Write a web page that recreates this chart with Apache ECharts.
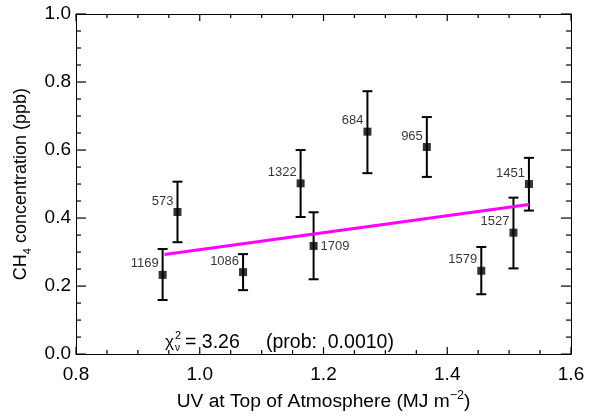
<!DOCTYPE html>
<html>
<head>
<meta charset="utf-8">
<script src="https://cdn.jsdelivr.net/npm/echarts@6/dist/echarts.min.js"></script>
<style>
html,body{margin:0;padding:0;background:#fff;}
#c{width:589px;height:416px;}
</style>
</head>
<body>
<div id="c"></div>
<script>
// ---- data ----
var ids = ['573', '1169', '1086', '1322', '684', '965', '1451', '1709', '1579', '1527'];
var uv = [0.964, 0.940, 1.070, 1.163, 1.271, 1.367, 1.532, 1.184, 1.455, 1.507];
var ch4 = [0.418, 0.233, 0.241, 0.502, 0.654, 0.609, 0.500, 0.318, 0.245, 0.357];
var errLow = [0.329, 0.159, 0.188, 0.403, 0.532, 0.521, 0.422, 0.220, 0.176, 0.252];
var errHigh = [0.507, 0.309, 0.294, 0.600, 0.773, 0.697, 0.577, 0.417, 0.315, 0.460];
var fitX = [0.943, 1.532];
var fitY = [0.293, 0.440];
var xTicks = [0.8, 1.0, 1.2, 1.4, 1.6];
var yTicks = [0.0, 0.2, 0.4, 0.6, 0.8, 1.0];
var minorPerMajor = 4;
var chiText = '= 3.26';
var probText = '(prob:  0.0010)';

var FONT = '"Liberation Sans", Arial, Helvetica, sans-serif';
var chart = echarts.init(document.getElementById('c'), null, {renderer: 'canvas'});

var scatterData = uv.map(function (x, i) {
  var right = ids[i] === '1709';
  return {
    value: [x, ch4[i]],
    name: ids[i],
    label: right ? {position: 'right', distance: 3, align: 'left', verticalAlign: 'middle'}
                 : {position: [0, -7], align: 'right', verticalAlign: 'middle'}
  };
});
var errData = uv.map(function (x, i) { return [x, errLow[i], errHigh[i]]; });
var fitData = fitX.map(function (x, i) { return [x, fitY[i]]; });

function fmt1(v) { return Number(v).toFixed(1); }

var XMIN = xTicks[0], XMAX = xTicks[xTicks.length - 1];
var YMIN = yTicks[0], YMAX = yTicks[yTicks.length - 1];
var blackLine = {color: '#000', width: 1};

// tick segments built through the axes' own scales (convertToPixel after layout)
function buildTickGraphics() {
  var els = [];
  var p0 = chart.convertToPixel({gridIndex: 0}, [XMIN, YMIN]);
  var p1 = chart.convertToPixel({gridIndex: 0}, [XMAX, YMAX]);
  var xl = p0[0], xr = p1[0], yb = p0[1], yt = p1[1];
  function seg(x1, y1, x2, y2) {
    els.push({type: 'line', silent: true, z: 10, shape: {x1: x1, y1: y1, x2: x2, y2: y2},
      style: {stroke: '#000', lineWidth: 1.2}});
  }
  function each(list, cb) {
    for (var i = 0; i < list.length; i++) {
      cb(list[i], true);
      if (i < list.length - 1) {
        var step = (list[i + 1] - list[i]) / minorPerMajor;
        for (var k = 1; k < minorPerMajor; k++) cb(list[i] + step * k, false);
      }
    }
  }
  each(xTicks, function (v, major) {
    var px = chart.convertToPixel({xAxisIndex: 0}, v);
    var len = major ? 7 : 4;
    seg(px, yb, px, yb - len);
    seg(px, yt, px, yt + len);
  });
  each(yTicks, function (v, major) {
    var py = chart.convertToPixel({yAxisIndex: 0}, v);
    var len = major ? 10 : 5;
    seg(xl, py, xl + len, py);
    seg(xr, py, xr - len, py);
  });
  return els;
}

var option = {
  animation: false,
  backgroundColor: '#fff',
  textStyle: {fontFamily: FONT},
  grid: {left: 76, right: 18, top: 14, bottom: 50, containLabel: false},
  xAxis: [{
    type: 'value', min: XMIN, max: XMAX, interval: 0.2, position: 'bottom',
    axisLine: {show: true, onZero: false, lineStyle: blackLine},
    axisTick: {show: false},
    splitLine: {show: false},
    axisLabel: {show: true, color: '#000', fontSize: 19, fontFamily: FONT, margin: 11, formatter: fmt1},
    name: '{a|UV at Top of Atmosphere (MJ m}{s|\u22122}{a|)}',
    nameLocation: 'middle', nameGap: 27,
    nameTextStyle: {
      color: '#000', fontFamily: FONT, fontSize: 19,
      rich: {
        a: {fontSize: 19.2, fontFamily: FONT, color: '#000', lineHeight: 22, verticalAlign: 'bottom'},
        s: {fontSize: 12.5, fontFamily: FONT, color: '#000', lineHeight: 22, verticalAlign: 'top'}
      }
    }
  }, {
    type: 'value', min: XMIN, max: XMAX, interval: 0.2, position: 'top',
    axisLine: {show: true, onZero: false, lineStyle: blackLine},
    axisTick: {show: false}, axisLabel: {show: false}, splitLine: {show: false}
  }],
  yAxis: [{
    type: 'value', min: YMIN, max: YMAX, interval: 0.2, position: 'left',
    axisLine: {show: true, onZero: false, lineStyle: blackLine},
    axisTick: {show: false},
    splitLine: {show: false},
    axisLabel: {show: true, color: '#000', fontSize: 19, fontFamily: FONT, margin: 5, formatter: fmt1},
    name: '{a|CH}{s|4}{a| concentration (ppb)}',
    nameLocation: 'middle', nameGap: 38, nameRotate: 90,
    nameTextStyle: {
      color: '#000', fontFamily: FONT, fontSize: 18,
      rich: {
        a: {fontSize: 18, fontFamily: FONT, color: '#000', lineHeight: 22, verticalAlign: 'top'},
        s: {fontSize: 11, fontFamily: FONT, color: '#000', lineHeight: 22, verticalAlign: 'bottom'}
      }
    }
  }, {
    type: 'value', min: YMIN, max: YMAX, interval: 0.2, position: 'right',
    axisLine: {show: true, onZero: false, lineStyle: blackLine},
    axisTick: {show: false}, axisLabel: {show: false}, splitLine: {show: false}
  }],
  series: [
    {
      type: 'custom',
      xAxisIndex: 0, yAxisIndex: 0,
      data: errData,
      z: 2,
      renderItem: function (params, api) {
        var x = api.value(0);
        var lo = api.coord([x, api.value(1)]);
        var hi = api.coord([x, api.value(2)]);
        var hw = 5;
        var st = {stroke: '#000', lineWidth: 2, fill: null};
        return {
          type: 'group',
          children: [
            {type: 'line', shape: {x1: lo[0], y1: lo[1], x2: hi[0], y2: hi[1]}, style: st},
            {type: 'line', shape: {x1: lo[0] - hw, y1: lo[1], x2: lo[0] + hw, y2: lo[1]}, style: st},
            {type: 'line', shape: {x1: hi[0] - hw, y1: hi[1], x2: hi[0] + hw, y2: hi[1]}, style: st}
          ]
        };
      }
    },
    {
      type: 'line',
      xAxisIndex: 0, yAxisIndex: 0,
      data: fitData,
      z: 3,
      symbol: 'none',
      lineStyle: {color: '#ff00ff', width: 3},
      silent: true
    },
    {
      type: 'scatter',
      xAxisIndex: 0, yAxisIndex: 0,
      data: scatterData,
      z: 4,
      symbol: 'rect',
      symbolSize: 8,
      itemStyle: {color: '#000'},
      label: {
        show: true,
        formatter: function (p) { return p.name; },
        color: '#000', fontSize: 13, fontFamily: FONT
      }
    }
  ]
};
chart.setOption(option);

var annot = [
  {type: 'text', left: 165, top: 334, style: {text: '\u03c7', font: '17px ' + FONT, fill: '#000'}},
  {type: 'text', left: 175, top: 330, style: {text: '2', font: '11px ' + FONT, fill: '#000'}},
  {type: 'text', left: 175, top: 343, style: {text: '\u03bd', font: '10px ' + FONT, fill: '#000'}},
  {type: 'text', left: 185, top: 333, style: {text: chiText, font: '19.5px ' + FONT, fill: '#000'}},
  {type: 'text', left: 266, top: 333, style: {text: probText, font: '19.5px ' + FONT, fill: '#000'}}
];
chart.setOption({graphic: annot.concat(buildTickGraphics())});
</script>
</body>
</html>
